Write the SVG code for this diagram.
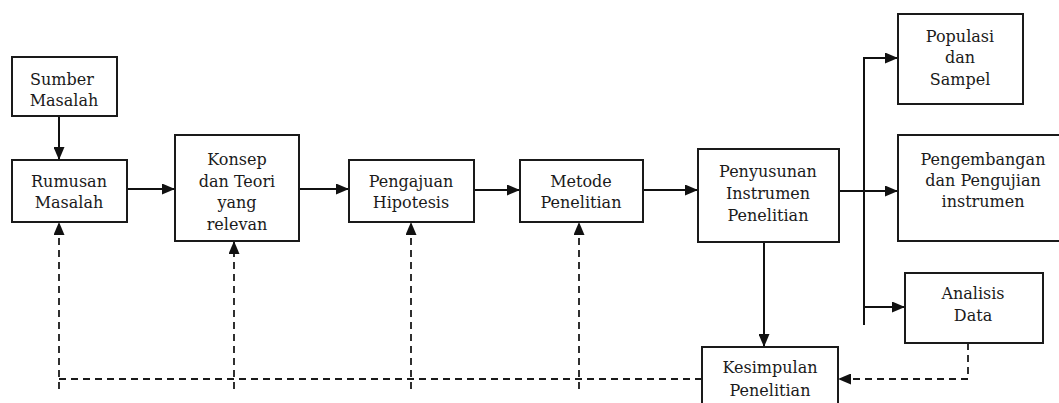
<svg xmlns="http://www.w3.org/2000/svg" width="1059" height="403" viewBox="0 0 1059 403">
<style>
.box{fill:#fff;stroke:#1a1a1a;stroke-width:2}
.t{font-family:"DejaVu Serif","Liberation Serif",serif;font-size:16px;fill:#1a1a1a;text-anchor:middle}
.ln{fill:none;stroke:#111;stroke-width:2}
.dash{fill:none;stroke:#1a1a1a;stroke-width:1.8;stroke-dasharray:7 5}
</style>
<defs>
<marker id="ah" viewBox="0 0 13 11" refX="13" refY="5.5" markerWidth="13" markerHeight="11" markerUnits="userSpaceOnUse" orient="auto">
<path d="M0,0 L13,5.5 L0,11 Z" fill="#111"/>
</marker>
</defs>
<rect width="1059" height="403" fill="#fff"/>
<g id="connectors">
<line class="ln" x1="59" y1="116" x2="59" y2="160" marker-end="url(#ah)"/>
<line class="ln" x1="127" y1="189" x2="175" y2="189" marker-end="url(#ah)"/>
<line class="ln" x1="299" y1="189" x2="349" y2="189" marker-end="url(#ah)"/>
<line class="ln" x1="474" y1="190" x2="520" y2="190" marker-end="url(#ah)"/>
<line class="ln" x1="643" y1="190" x2="698" y2="190" marker-end="url(#ah)"/>
<line class="ln" x1="839" y1="191" x2="898" y2="191" marker-end="url(#ah)"/>
<line class="ln" x1="864" y1="57" x2="864" y2="325"/>
<line class="ln" x1="864" y1="58" x2="898" y2="58" marker-end="url(#ah)"/>
<line class="ln" x1="864" y1="307" x2="905" y2="307" marker-end="url(#ah)"/>
<line class="ln" x1="764" y1="228" x2="764" y2="347" marker-end="url(#ah)"/>
<polyline class="dash" points="968,343 968,379 838,379" marker-end="url(#ah)"/>
<line class="dash" x1="702" y1="379" x2="59" y2="379"/>
<line class="dash" x1="59" y1="389" x2="59" y2="222" marker-end="url(#ah)"/>
<line class="dash" x1="234" y1="389" x2="234" y2="241" marker-end="url(#ah)"/>
<line class="dash" x1="411" y1="389" x2="411" y2="222" marker-end="url(#ah)"/>
<line class="dash" x1="579" y1="389" x2="579" y2="222" marker-end="url(#ah)"/>
</g>
<g id="sumber">
<rect class="box" x="12" y="57" width="105" height="59"/>
<text class="t" x="62" y="85">Sumber</text>
<text class="t" x="64" y="106">Masalah</text>
</g>
<g id="rumusan">
<rect class="box" x="12" y="160" width="115" height="62"/>
<text class="t" x="69" y="187">Rumusan</text>
<text class="t" x="69" y="208">Masalah</text>
</g>
<g id="konsep">
<rect class="box" x="175" y="135" width="124" height="106"/>
<text class="t" x="237" y="165">Konsep</text>
<text class="t" x="237" y="187">dan Teori</text>
<text class="t" x="237" y="208">yang</text>
<text class="t" x="237" y="230">relevan</text>
</g>
<g id="pengajuan">
<rect class="box" x="349" y="160" width="125" height="62"/>
<text class="t" x="411" y="187">Pengajuan</text>
<text class="t" x="411" y="208">Hipotesis</text>
</g>
<g id="metode">
<rect class="box" x="520" y="160" width="123" height="62"/>
<text class="t" x="581" y="187">Metode</text>
<text class="t" x="581" y="208">Penelitian</text>
</g>
<g id="penyusunan">
<rect class="box" x="698" y="149" width="141" height="93"/>
<text class="t" x="768" y="177">Penyusunan</text>
<text class="t" x="768" y="199">Instrumen</text>
<text class="t" x="768" y="221">Penelitian</text>
</g>
<g id="populasi">
<rect class="box" x="898" y="14" width="125" height="90"/>
<text class="t" x="960" y="42">Populasi</text>
<text class="t" x="960" y="63">dan</text>
<text class="t" x="960" y="85">Sampel</text>
</g>
<g id="pengembangan">
<rect class="box" x="898" y="135" width="162" height="106"/>
<text class="t" x="983" y="165">Pengembangan</text>
<text class="t" x="983" y="186">dan Pengujian</text>
<text class="t" x="983" y="207">instrumen</text>
</g>
<g id="analisis">
<rect class="box" x="905" y="273" width="138" height="70"/>
<text class="t" x="973" y="299">Analisis</text>
<text class="t" x="973" y="321">Data</text>
</g>
<g id="kesimpulan">
<rect class="box" x="702" y="347" width="136" height="70"/>
<text class="t" x="770" y="373">Kesimpulan</text>
<text class="t" x="770" y="396">Penelitian</text>
</g>
</svg>
